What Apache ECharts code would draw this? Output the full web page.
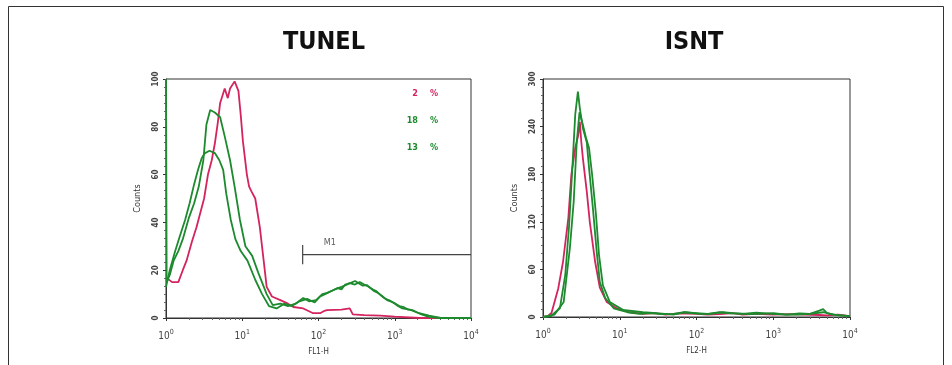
<!DOCTYPE html>
<html>
<head>
<meta charset="utf-8">
<script src="https://cdn.jsdelivr.net/npm/echarts@6/dist/echarts.min.js"></script>
<style>
html, body { margin: 0; padding: 0; background: #fff; }
#main { width: 952px; height: 365px; }
</style>
</head>
<body>
<div id="main"></div>
<script>
// TUNEL histogram (FL1-H)
var tunelRedX = [1, 1.2, 1.45, 1.66, 1.86, 2.19, 2.51, 2.82, 3.16, 3.55, 3.98, 4.37, 4.79, 5.13, 5.89, 6.46, 6.92, 7.94, 8.91, 9.55, 10.2, 11.5, 12.3, 13.2, 14.8, 17, 19.1, 20.9, 24.5, 31.6, 39.8, 46.8, 63.1, 85.1, 105, 120, 129, 200, 257, 282, 398, 646, 1000, 2138, 10000];
var tunelRedY = [17, 15, 15, 20, 24, 32, 38, 44, 50, 60, 66, 73, 82, 90, 96, 92, 96, 99, 95, 85, 74, 60, 55, 53, 50, 38, 24, 13, 9, 7.5, 6, 4.6, 4, 2, 2, 3, 3.3, 3.5, 4, 1.5, 1.2, 1, 0.6, 0, 0];

var tunelG1X = [1, 1.02, 1.12, 1.26, 1.45, 1.66, 2, 2.34, 2.69, 3.09, 3.39, 3.8, 4.37, 5.13, 5.89, 6.92, 7.94, 9.33, 11, 13.5, 16.2, 20.9, 25.1, 31.6, 39.8, 50.1, 63.1, 75, 93, 112, 130, 158, 180, 200, 230, 257, 300, 347, 398, 450, 513, 570, 631, 700, 794, 900, 1023, 1150, 1318, 1500, 1698, 2000, 2239, 2818, 3981, 10000];
var tunelG1Y = [100, 15, 18, 24, 28, 33, 42, 48, 55, 66, 81, 87, 86, 84, 76, 66, 55, 41, 30, 26, 19, 10, 5.4, 6, 5, 6, 8.4, 7, 7.5, 10, 10.5, 11.7, 12.5, 13, 13.8, 14.6, 14, 15, 14, 13.2, 12, 11.3, 10, 8.8, 7.5, 6.8, 6, 5, 4.5, 3.5, 3.3, 2.2, 1.5, 0.5, 0, 0];

var tunelG2X = [1, 1.12, 1.32, 1.51, 1.78, 2.04, 2.34, 2.63, 2.95, 3.24, 3.72, 4.37, 5.01, 5.62, 6.17, 7.08, 8.13, 9.55, 11.7, 14.8, 18.2, 22.4, 28.2, 35.5, 44.7, 56.2, 70.8, 89.1, 105, 122, 141, 160, 178, 200, 224, 260, 302, 340, 380, 430, 479, 540, 603, 680, 759, 850, 955, 1100, 1259, 1585, 2089, 2818, 3981, 10000];
var tunelG2Y = [13, 20, 28, 34, 41, 48, 56, 62, 67, 69, 70, 69, 66, 62, 52, 41, 33, 28, 24, 16, 10, 5, 4, 6, 5, 7, 8, 6.5, 9, 10, 11, 11.8, 12.5, 12, 14, 14.6, 15.5, 14.4, 13.5, 13.8, 12.5, 11.2, 10.5, 9.2, 8, 7.4, 6.5, 5, 4, 3.5, 2, 1, 0, 0];

// M1 marker gate
var m1Start = 62;
var m1End = 10000;
var m1Level = 26.5;

// ISNT histogram (FL2-H)
var isntRedX = [1, 1.15, 1.29, 1.58, 1.82, 2.14, 2.34, 2.63, 2.88, 3.02, 3.16, 3.31, 3.72, 4.07, 4.79, 5.5, 6.76, 9.12, 13.5, 17, 20, 28, 40, 60, 100, 140, 200, 300, 400, 600, 1000, 1600, 2512, 4000, 5012, 7000, 10000];
var isntRedY = [0, 1, 5, 36, 69, 125, 179, 213, 229, 246, 220, 200, 158, 120, 69, 37, 19, 11, 6, 5, 4, 5, 3, 4.5, 4, 3, 3.5, 5, 3, 4, 3, 3.5, 3, 2.5, 2, 3, 1];

var isntG1X = [1, 1.26, 1.66, 1.95, 2.19, 2.45, 2.63, 2.85, 3.02, 3.31, 3.72, 3.98, 4.47, 5.01, 5.5, 6.46, 8.32, 12.6, 18, 25, 35, 50, 70, 100, 140, 200, 280, 400, 600, 1000, 1400, 2000, 3000, 3981, 4467, 5012, 7079, 10000];
var isntG1Y = [0, 1, 11, 53, 116, 200, 255, 284, 263, 238, 220, 188, 137, 82, 44, 24, 11, 6, 4, 5, 3.5, 4, 6, 5, 4, 6, 4.5, 4, 5.5, 4, 3, 3, 4, 8, 10, 5, 2, 1];

var isntG2X = [1, 1.41, 1.86, 2.24, 2.51, 2.75, 2.99, 3.31, 3.63, 3.98, 4.37, 4.9, 5.37, 6.03, 7.41, 11, 20, 30, 50, 70, 110, 150, 220, 300, 500, 700, 1000, 1500, 2200, 3000, 4500, 6000, 10000];
var isntG2Y = [0, 3, 19, 87, 145, 220, 258, 242, 226, 213, 179, 129, 78, 40, 19, 9, 6, 5, 3, 6, 4, 4, 6, 5, 3.5, 4, 5, 3, 4.5, 4, 6, 3, 1];

var tunelTicks = [0, 20, 40, 60, 80, 100];
var isntTicks = [0, 60, 120, 180, 240, 300];
var percentValues = ['2', '18', '13'];

var RED = '#d4245e';
var GREEN = '#1d8a2e';
var INK = '#333';
var NARROW = 'DejaVu Sans Condensed, Liberation Sans Narrow, sans-serif';

function pairs(xs, ys) {
	var out = [];
	for (var i = 0; i < xs.length; i++) {
		out.push([xs[i], ys[i]]);
	}
	return out;
}

function xAxisFor(gridIndex, name) {
	return {
		type: 'log',
		gridIndex: gridIndex,
		logBase: 10,
		min: 1,
		max: 10000,
		name: name,
		nameLocation: 'middle',
		nameGap: 30,
		nameTextStyle: { fontSize: 8, color: INK, fontFamily: NARROW },
		axisLine: { lineStyle: { color: INK, width: 1 } },
		axisTick: { length: 3, lineStyle: { color: INK } },
		minorTick: { show: true, splitNumber: 9, length: 2, lineStyle: { color: '#666' } },
		splitLine: { show: false },
		axisLabel: {
			margin: 11,
			color: INK,
			formatter: function(v) {
				return '{b|10}{s|' + Math.round(Math.log10(v)) + '}';
			},
			rich: {
				b: { fontSize: 10, fontFamily: NARROW, color: '#444' },
				s: { fontSize: 7, fontFamily: NARROW, color: '#444', padding: [0, 0, 7, 0] }
			}
		}
	};
}

function yAxisFor(gridIndex, ticks) {
	return {
		type: 'value',
		gridIndex: gridIndex,
		min: ticks[0],
		max: ticks[ticks.length - 1],
		interval: ticks[1] - ticks[0],
		name: 'Counts',
		nameLocation: 'middle',
		nameGap: 24,
		nameTextStyle: { fontSize: 9, color: INK, fontFamily: NARROW },
		axisLine: { show: true, lineStyle: { color: INK, width: 1 } },
		axisTick: { show: true, length: 3, lineStyle: { color: INK } },
		minorTick: { show: true, splitNumber: 6, length: 2, lineStyle: { color: '#666' } },
		splitLine: { show: false },
		axisLabel: {
			rotate: 90,
			margin: 6,
			fontSize: 8,
			fontWeight: 'bold',
			color: '#444',
			fontFamily: NARROW
		}
	};
}

function histSeries(xi, xs, ys, color) {
	return {
		type: 'line',
		xAxisIndex: xi,
		yAxisIndex: xi,
		data: pairs(xs, ys),
		showSymbol: false,
		symbol: 'none',
		lineStyle: { color: color, width: 1.8 },
		z: 3
	};
}

// 백분율 라벨 (숫자 + %)
function percentText(i, color) {
	var top = 89 + i * 27;
	return [
		{ type: 'text', right: 952 - 418, top: top, style: { text: percentValues[i], fill: color, font: 'bold 9px DejaVu Sans Condensed, sans-serif', textAlign: 'right' } },
		{ type: 'text', left: 430, top: top, style: { text: '%', fill: color, font: 'bold 9px DejaVu Sans Condensed, sans-serif' } }
	];
}

var chart = echarts.init(document.getElementById('main'));

var option = {
	backgroundColor: '#fff',
	animation: false,
	title: [
		{ text: 'TUNEL', left: 319, top: 25, textAlign: 'center',
		  textStyle: { fontSize: 25, fontWeight: 'bold', color: '#111', fontFamily: NARROW } },
		{ text: 'ISNT', left: 689, top: 25, textAlign: 'center',
		  textStyle: { fontSize: 25, fontWeight: 'bold', color: '#111', fontFamily: NARROW } }
	],
	grid: [
		{ left: 166, top: 79, width: 305, height: 239, show: true, borderColor: INK, borderWidth: 1 },
		{ left: 543, top: 79, width: 307, height: 238, show: true, borderColor: INK, borderWidth: 1 }
	],
	xAxis: [xAxisFor(0, 'FL1-H'), xAxisFor(1, 'FL2-H')],
	yAxis: [yAxisFor(0, tunelTicks), yAxisFor(1, isntTicks)],
	series: [
		histSeries(0, tunelRedX, tunelRedY, RED),
		histSeries(0, tunelG2X, tunelG2Y, GREEN),
		histSeries(0, tunelG1X, tunelG1Y, GREEN),
		{
			// M1 gate
			type: 'line',
			xAxisIndex: 0,
			yAxisIndex: 0,
			data: [[m1Start, m1Level - 4], [m1Start, m1Level + 4], null, [m1Start, m1Level], [m1End, m1Level]],
			connectNulls: false,
			showSymbol: false,
			symbol: 'none',
			lineStyle: { color: '#444', width: 1.2 },
			z: 2
		},
		{
			type: 'scatter',
			xAxisIndex: 0,
			yAxisIndex: 0,
			data: [[141, m1Level + 5]],
			symbolSize: 0,
			label: { show: true, position: 'inside', formatter: 'M1', fontSize: 9, color: INK, fontFamily: NARROW }
		},
		histSeries(1, isntRedX, isntRedY, RED),
		histSeries(1, isntG2X, isntG2Y, GREEN),
		histSeries(1, isntG1X, isntG1Y, GREEN)
	],
	graphic: [
		{ type: 'rect', shape: { x: 8.5, y: 6.5, width: 935, height: 400 }, style: { fill: 'none', stroke: INK, lineWidth: 1 }, silent: true }
	].concat(percentText(0, RED), percentText(1, GREEN), percentText(2, GREEN))
};

chart.setOption(option);
</script>
</body>
</html>
